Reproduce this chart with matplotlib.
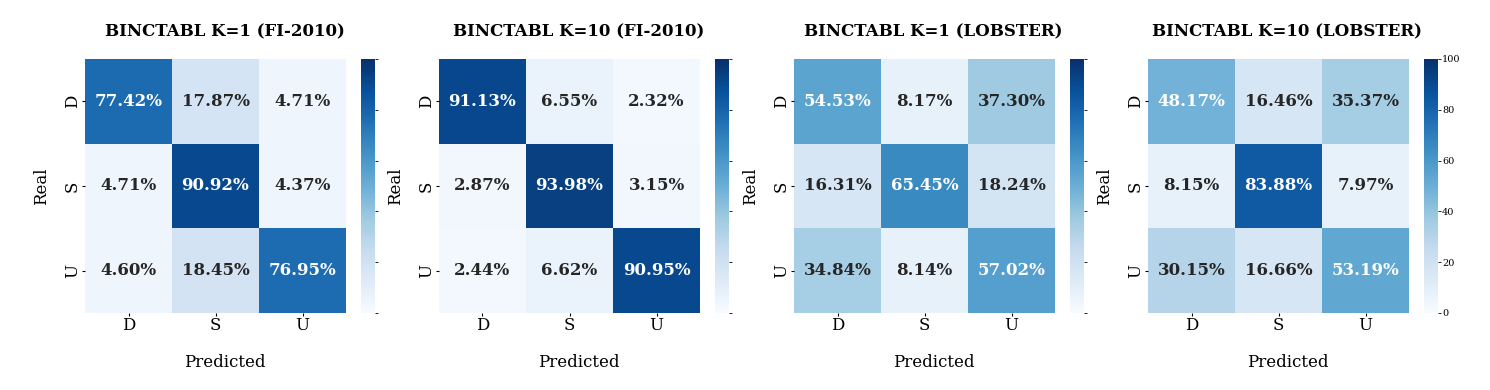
import numpy as np
import matplotlib
matplotlib.use("Agg")
import matplotlib.pyplot as plt
import seaborn as sns

plt.rcParams['font.family'] = ['DejaVu Serif']

titles = ["BINCTABL K=1 (FI-2010)", "BINCTABL K=10 (FI-2010)",
          "BINCTABL K=1 (LOBSTER)", "BINCTABL K=10 (LOBSTER)"]
labels = ["D", "S", "U"]

cm1 = [[77.42, 17.87, 4.71], [4.71, 90.92, 4.37], [4.60, 18.45, 76.95]]
cm2 = [[91.13, 6.55, 2.32], [2.87, 93.98, 3.15], [2.44, 6.62, 90.95]]
cm3 = [[54.53, 8.17, 37.30], [16.31, 65.45, 18.24], [34.84, 8.14, 57.02]]
cm4 = [[48.17, 16.46, 35.37], [8.15, 83.88, 7.97], [30.15, 16.66, 53.19]]
matrices = [cm1, cm2, cm3, cm4]

W, H = 1490, 390
fig = plt.figure(figsize=(W / 100, H / 100), dpi=100)

lefts = [85, 439, 794, 1148]
shift = 9 / 261
for i, (cm, title, x0) in enumerate(zip(matrices, titles, lefts)):
    ax = fig.add_axes([x0 / W, (H - 313) / H, 261 / W, 254 / H])
    cax = fig.add_axes([(x0 + 276) / W, (H - 313) / H, 14 / W, 254 / H])
    arr = np.array(cm)
    annot = np.array([[f"{v:.2f}%" for v in row] for row in cm])
    sns.heatmap(arr, ax=ax, cbar_ax=cax, cmap="Blues", vmin=0, vmax=100,
                annot=annot, fmt="", annot_kws={"fontsize": 12, "fontweight": "bold"},
                xticklabels=labels, yticklabels=labels)
    ax.set_title(title, fontsize=12, fontweight="bold", pad=16, x=0.5 + shift)
    ax.set_xlabel("Predicted", fontsize=12)
    ax.set_ylabel("Real", fontsize=12)
    ax.xaxis.set_label_coords(0.5 + shift, -0.162)
    ax.yaxis.set_label_coords(-0.135, 0.5)
    ax.tick_params(axis='both', labelsize=12, length=2.5, pad=0.5, width=0.8)
    ax.set_yticklabels(labels, rotation=90, va='center')
    ax.set_xticklabels(labels, rotation=0)
    cax.set_yticks([0, 20, 40, 60, 80, 100])
    cax.tick_params(labelsize=7, length=2, width=0.6, pad=1)
    if i < 3:
        cax.set_yticklabels([])

fig.savefig("out.png", dpi=100)
